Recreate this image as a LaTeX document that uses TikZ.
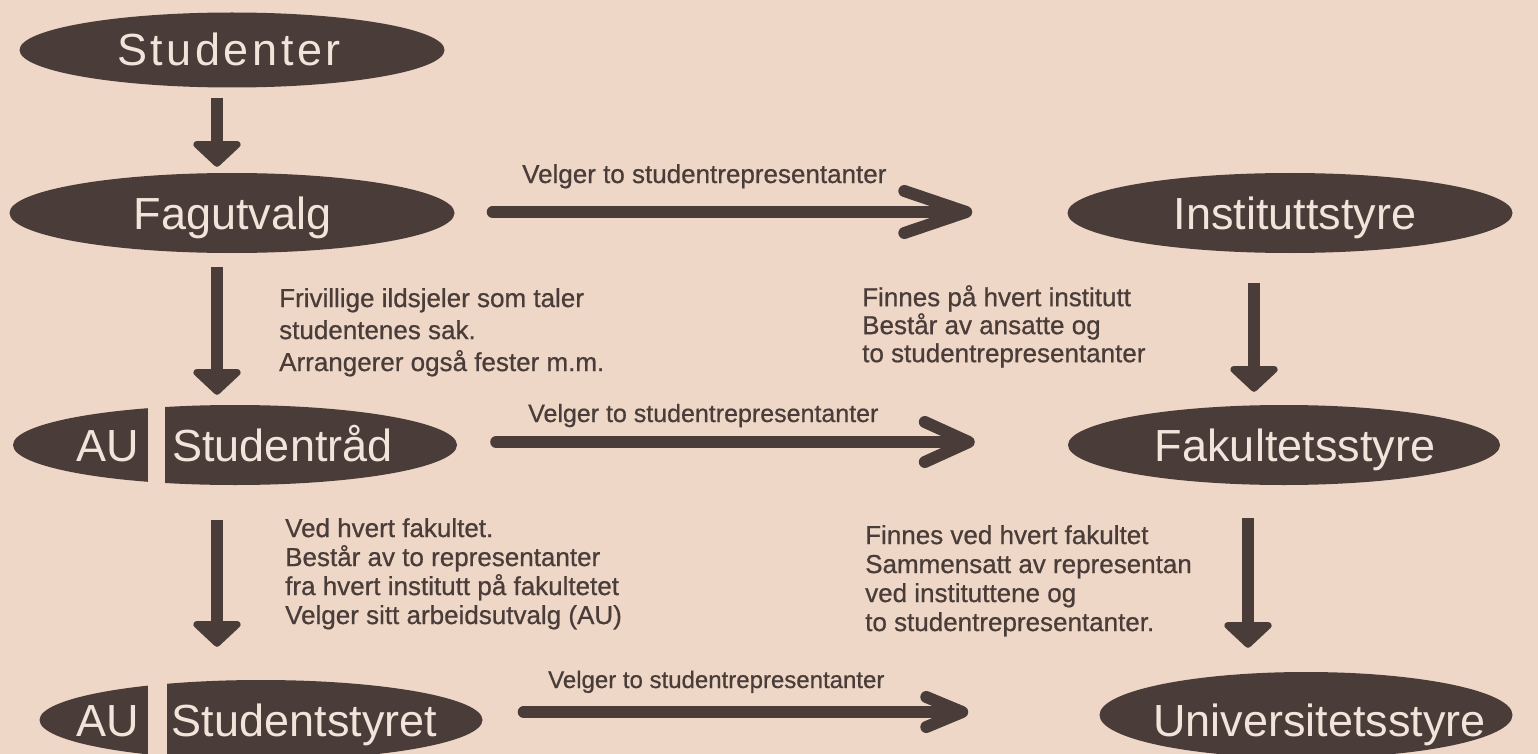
\documentclass[tikz,border=0pt]{standalone}
\usepackage{fontspec}
\setmainfont{Liberation Sans}
\newfontfamily\notefont[FakeBold=0.7]{Liberation Sans}
\usetikzlibrary{shapes.geometric,arrows.meta}
\definecolor{paper}{RGB}{239,215,200}
\definecolor{ink}{RGB}{74,61,57}
\definecolor{cream}{RGB}{242,228,218}
\begin{document}
\begin{tikzpicture}[x=1pt,y=-1pt,
  organ/.style={ellipse,fill=ink,inner sep=0pt,minimum height=80pt},
  organtext/.style={text=cream,inner sep=0pt,text height=32pt,text depth=0pt,
    font=\fontsize{45}{54}\selectfont},
  note/.style={text=ink,inner sep=0pt,align=left,anchor=north west},
  velg/.style={text=ink,inner sep=0pt,anchor=base west},
  down/.style={draw=ink,line width=12pt,-{Triangle[length=27pt,width=56pt,round]}},
  across/.style={draw=ink,line width=12pt,line cap=round}]
  \clip (0,0) rectangle (1538,754);
  \fill [paper] (0,0) rectangle (1538,754);
  % left column
  \node [organ,minimum width=425pt,minimum height=75pt] (studenter) at (232,50) {};
  \node [organtext] (studentername) at (229,50) {\addfontfeature{LetterSpace=8}Studenter};
  \node [organ,minimum width=445pt] (fagutvalg) at (232,213) {};
  \node [organtext] (fagname) at (232.5,213) {Fagutvalg};
  \node [organ,minimum width=444pt] (raad) at (235,445) {};
  \fill [paper] (148,400) rectangle (165,490);
  \node [organtext] (raadau) at (107.5,445) {AU};
  \node [organtext] (raadname) at (282.5,445) {Studentråd};
  \node [organ,minimum width=443pt] (styret) at (261,720) {};
  \fill [paper] (148,675) rectangle (167,760);
  \node [organtext] (styretau) at (107.5,720) {AU};
  \node [organtext] (styretname) at (304.5,720) {Studentstyret};
  % right column
  \node [organ,minimum width=445pt] (institutt) at (1290,213) {};
  \node [organtext] (instname) at (1295,213) {Instituttstyre};
  \node [organ,minimum width=432pt] (fakultet) at (1284,445) {};
  \node [organtext] (fakname) at (1295,445) {Fakultetsstyre};
  \node [organ,minimum width=413pt,minimum height=86pt] (univ) at (1306,715) {};
  \node [organtext] (univname) at (1319.5,720) {Universitetsstyre};
  % rows and columns of the arrows
  \coordinate (row1) at (0,212);
  \coordinate (row2) at (0,442);
  \coordinate (row3) at (0,712);
  \coordinate (colL) at (217,0);
  \coordinate (colR) at (1254,0);
  \coordinate (colU) at (1248,0);
  \draw [down,shorten <=10pt,shorten >=6pt] (studenter.south -| colL) -- (fagutvalg.north -| colL);
  \draw [down,shorten <=14pt,shorten >=10pt] (fagutvalg.south -| colL) -- (raad.north -| colL);
  \draw [down,shorten <=35pt,shorten >=33pt] (raad.south -| colL) -- (styret.north -| colL);
  \draw [down,shorten <=30pt,shorten >=13pt] (institutt.south -| colR) -- (fakultet.north -| colR);
  \draw [down,shorten <=33pt,shorten >=24pt] (fakultet.south -| colU) -- (univ.north -| colU);
  \draw [across,-{Straight Barb[length=62pt,width=42pt,round]},shorten <=38pt,shorten >=95pt]
    (fagutvalg.east |- row1) -- (institutt.west |- row1);
  \draw [across,-{Straight Barb[length=44pt,width=40pt,round]},shorten <=39pt,shorten >=93pt]
    (raad.east |- row2) -- (fakultet.west |- row2);
  \draw [across,-{Straight Barb[length=36pt,width=30pt,round]},shorten <=41pt,shorten >=131pt]
    (styret.east |- row3) -- (univ.west |- row3);
  % labels
  \node [velg,font=\notefont\fontsize{26}{30}\selectfont] (velg1) at (522,183) {Velger to studentrepresentanter};
  \node [velg,font=\notefont\fontsize{25}{30}\selectfont] (velg2) at (528,422) {Velger to studentrepresentanter};
  \node [velg,font=\notefont\fontsize{24}{30}\selectfont] (velg3) at (548,688) {Velger to studentrepresentanter};
  \node [note,font=\notefont\fontsize{26}{32}\selectfont] (fagnote) at (279,288)
    {Frivillige ildsjeler som taler\\studentenes sak.\\Arrangerer også fester m.m.};
  \node [note,font=\notefont\fontsize{26}{28}\selectfont] (instnote) at (862,285)
    {Finnes på hvert institutt\\Består av ansatte og\\to studentrepresentanter};
  \node [note,font=\notefont\fontsize{26}{29}\selectfont] (raadnote) at (285,518)
    {Ved hvert fakultet.\\Består av to representanter\\fra hvert institutt på fakultetet\\Velger sitt arbeidsutvalg (AU)};
  \node [note,font=\notefont\fontsize{26}{29}\selectfont] (faknote) at (865,525)
    {Finnes ved hvert fakultet\\Sammensatt av representan\\ved instituttene og\\to studentrepresentanter.};
\end{tikzpicture}
\end{document}
